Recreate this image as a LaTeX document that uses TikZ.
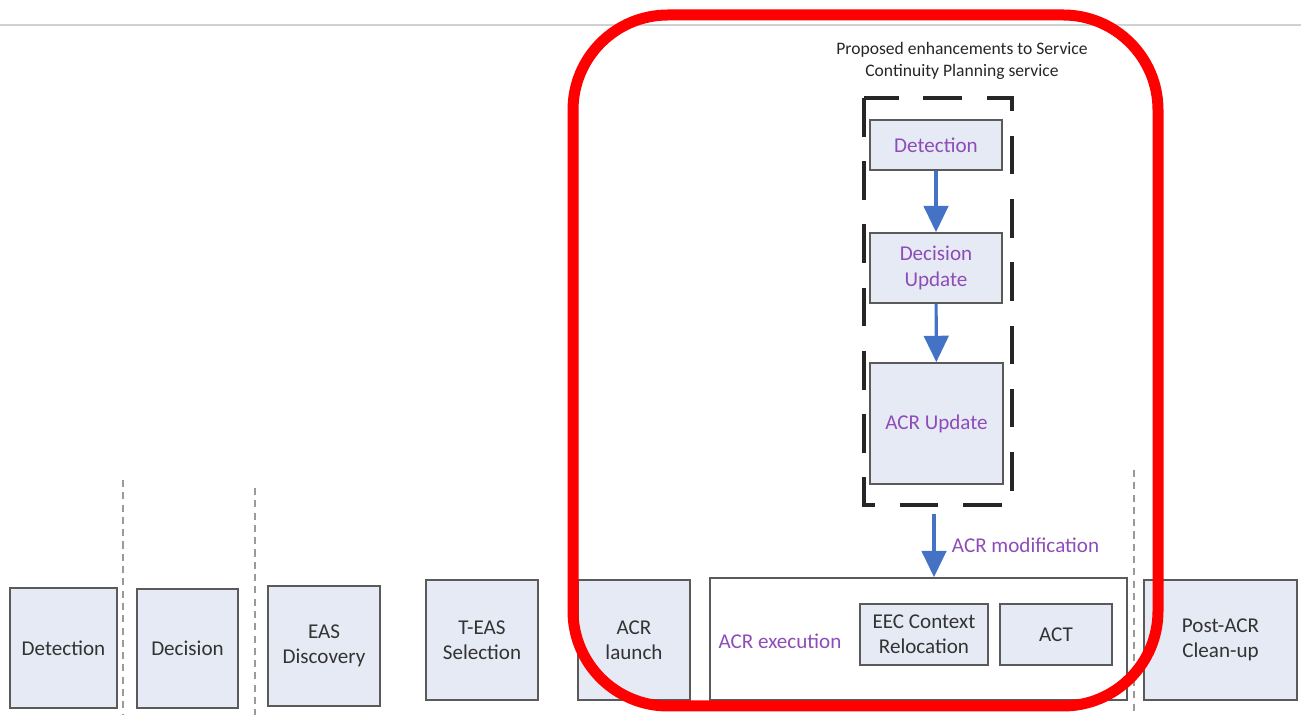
\documentclass[tikz,border=0pt]{standalone}
\usepackage{fontspec}
\setmainfont{Carlito}
\usepackage{xcolor}
\usetikzlibrary{arrows.meta}

\definecolor{boxfill}{HTML}{E6EAF5}
\definecolor{boxline}{HTML}{5A5A5A}
\definecolor{violet}{HTML}{8E4CB8}
\definecolor{flowblue}{HTML}{4472C4}
\definecolor{sepgray}{HTML}{9A9A9A}

\begin{document}
\begin{tikzpicture}[x=0.02cm,y=0.02cm,
		stagebox/.style={draw=boxline,line width=1pt,fill=boxfill,align=center,
			inner sep=0pt,font=\fontsize{12}{14.5}\selectfont,text=black!80},
		newbox/.style={stagebox,text=violet},
		flow/.style={draw=flowblue,line width=1.8pt,-{Triangle[width=14pt,length=15pt]}},
		separator/.style={draw=sepgray,line width=0.8pt,dash pattern=on 4pt off 3pt}]
		\useasboundingbox (0,0) rectangle (1301,715);
		\draw[black!18,line width=0.8pt] (0,690) -- (1301,690);
		%
		% stages along the bottom
		\node[stagebox,minimum width=2.14cm,minimum height=2.4cm] (Det) at (63.5,67) {Detection};
		\node[stagebox,minimum width=2.02cm,minimum height=2.38cm] (Dec) at (187.5,66.5) {Decision};
		\node[stagebox,minimum width=2.24cm,minimum height=2.4cm] (Disc) at (324,69) {EAS\\Discovery};
		\node[stagebox,minimum width=2.24cm,minimum height=2.4cm] (Sel) at (482,75) {T-EAS\\Selection};
		\node[stagebox,minimum width=2.24cm,minimum height=2.4cm] (Launch) at (634,75) {ACR\\launch};
		\node[draw=boxline,line width=1pt,fill=white,minimum width=8.34cm,minimum height=2.44cm] (Exec) at (918.5,76) {};
		\node[text=violet,font=\fontsize{12}{14.5}\selectfont] (ExecLbl) at (780,74) {ACR execution};
		\node[stagebox,minimum width=2.56cm,minimum height=1.22cm] (Reloc) at (924,80.5) {EEC Context\\Relocation};
		\node[stagebox,minimum width=2.24cm,minimum height=1.22cm] (Act) at (1056,80.5) {ACT};
		\node[stagebox,minimum width=3.06cm,minimum height=2.4cm] (Post) at (1220.5,75) {Post-ACR\\Clean-up};
		%
		% separators between stages
		\draw[separator] (123,235) -- (123,0);
		\draw[separator] (255,227) -- (255,0);
		\draw[separator] (1134,245) -- (1134,0);
		%
		% proposed enhancements
		\node[font=\fontsize{10}{13}\selectfont,align=center,text=black!85] (Title) at (962,654)
			{Proposed enhancements to Service\\Continuity Planning service};
		\draw[black!85,line width=2pt,dash pattern=on 22pt off 14pt] (864,617) rectangle (1012,210);
		\node[newbox,minimum width=2.64cm,minimum height=1.0cm] (UDet) at (936,570) {Detection};
		\node[newbox,minimum width=2.64cm,minimum height=1.4cm] (UDec) at (936,447) {Decision\\Update};
		\node[newbox,minimum width=2.66cm,minimum height=2.42cm] (UAcr) at (936.5,291.5) {ACR Update};
		\coordinate (Mod) at (934,201);
		%
		\draw[flow] (UDet) -- (UDec);
		\draw[flow] (UDec) -- (UAcr);
		\draw[flow] (Mod) -- node[right=6pt,text=violet,font=\fontsize{12}{14.5}\selectfont]{ACR modification} (Mod |- Exec.north);
		%
		% highlight
		\draw[red,line width=0.22cm,rounded corners=1.9cm] (573,700) rectangle (1158,9);
	\end{tikzpicture}
\end{document}
